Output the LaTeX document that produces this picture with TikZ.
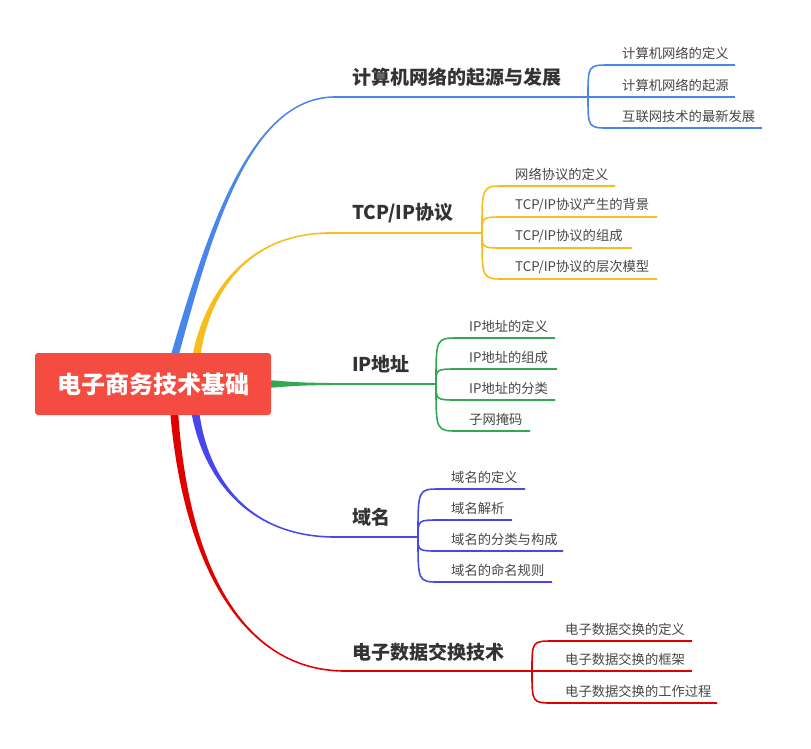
\documentclass[tikz,border=0pt]{standalone}
\usepackage{fontspec}
\setmainfont{Noto Sans CJK SC}
\usetikzlibrary{calc}
\definecolor{genhong}{RGB}{244,76,64}
\definecolor{lan}{RGB}{72,134,236}
\definecolor{huang}{RGB}{246,190,28}
\definecolor{lv}{RGB}{52,166,84}
\definecolor{zi}{RGB}{72,72,234}
\definecolor{hong}{RGB}{224,0,0}
\definecolor{wenzi}{RGB}{51,51,51}
\definecolor{xiaowen}{RGB}{70,70,70}
\tikzset{
  zhuti/.style={anchor=west,inner sep=0pt,text=wenzi,font=\fontsize{19}{23}\selectfont\bfseries},
  zixiang/.style={anchor=west,inner sep=0pt,text=xiaowen,font=\fontsize{13.3}{16}\selectfont},
  xian/.style={line width=1.6pt},
}
% 渐细的主干
\newcommand{\zhigan}[7]{%
  \fill[#1] ($(#2)+(-4,0)$) .. controls ($(#3)+(-2.5,0)$) and ($(#4)+(0,#6)$) .. ($(#5)+(0,#6)$)
    -- ($(#5)+(0,#7)$) .. controls ($(#4)+(0,#7)$) and ($(#3)+(2.5,0)$) .. ($(#2)+(4,0)$) -- cycle;}
% 分支
\newcommand{\fenzhi}[3]{%
  \draw[xian,#1] (#2) .. controls (#2 |- #3) .. ($(#2 |- #3)+(22,0)$) -- (#3);}

\begin{document}
\begin{tikzpicture}[x=1pt,y=-1pt]
  \useasboundingbox (0,0) rectangle (811,748);

  % 坐标点定义
  \coordinate (O1) at (174,358);
  \coordinate (B1) at (335,97);
  \coordinate (F1) at (588,97);
  \coordinate (O2) at (196,358);
  \coordinate (B2) at (330,233);
  \coordinate (F2) at (482,233);
  \coordinate (O3) at (268,384);
  \coordinate (B3) at (345,384);
  \coordinate (F3) at (436,384);
  \coordinate (O4) at (195,410);
  \coordinate (B4) at (335,537);
  \coordinate (F4) at (418,537);
  \coordinate (O5) at (174,410);
  \coordinate (B5) at (345,671);
  \coordinate (F5) at (532,671);

  % 子分支终点
  \coordinate (e11) at (735,65);
  \coordinate (e12) at (735,97);
  \coordinate (e13) at (762,128);
  \coordinate (e21) at (615,186);
  \coordinate (e22) at (657,217);
  \coordinate (e23) at (632,248);
  \coordinate (e24) at (657,279);
  \coordinate (e31) at (555,338);
  \coordinate (e32) at (557,369);
  \coordinate (e33) at (555,400);
  \coordinate (e34) at (530,431);
  \coordinate (e41) at (525,489);
  \coordinate (e42) at (512,520);
  \coordinate (e43) at (563,551);
  \coordinate (e44) at (552,582);
  \coordinate (e51) at (692,641);
  \coordinate (e52) at (692,671);
  \coordinate (e53) at (717,703);

  % 主干
  \zhigan{lan}{O1}{210,230}{250,97}{B1}{-0.8}{0.8}
  \zhigan{huang}{O2}{207,290}{250,233}{B2}{-0.8}{0.8}
  \zhigan{zi}{O4}{205,480}{250,537}{B4}{0.8}{-0.8}
  \zhigan{hong}{O5}{185,560}{240,671}{B5}{0.8}{-0.8}
  \fill[lv] ($(O3)+(0,-4)$) .. controls (300,382.6) .. ($(B3)+(0,-0.8)$)
    -- ($(B3)+(0,0.8)$) .. controls (300,385.4) .. ($(O3)+(0,4)$) -- cycle;

  \draw[xian,lan] (B1) -- (F1);
  \draw[xian,huang] (B2) -- (F2);
  \draw[xian,lv] (B3) -- (F3);
  \draw[xian,zi] (B4) -- (F4);
  \draw[xian,hong] (B5) -- (F5);

  % 子分支
  \fenzhi{lan}{F1}{e11}
  \fenzhi{lan}{F1}{e12}
  \fenzhi{lan}{F1}{e13}
  \fenzhi{huang}{F2}{e21}
  \fenzhi{huang}{F2}{e22}
  \fenzhi{huang}{F2}{e23}
  \fenzhi{huang}{F2}{e24}
  \fenzhi{lv}{F3}{e31}
  \fenzhi{lv}{F3}{e32}
  \fenzhi{lv}{F3}{e33}
  \fenzhi{lv}{F3}{e34}
  \fenzhi{zi}{F4}{e41}
  \fenzhi{zi}{F4}{e42}
  \fenzhi{zi}{F4}{e43}
  \fenzhi{zi}{F4}{e44}
  \fenzhi{hong}{F5}{e51}
  \fenzhi{hong}{F5}{e52}
  \fenzhi{hong}{F5}{e53}

  % 中心主题
  \node[fill=genhong,rounded corners=3pt,minimum width=236pt,minimum height=62pt,
    inner sep=0pt,text=white,font=\fontsize{24}{28}\selectfont\bfseries] (root) at (153,384) {电子商务技术基础};

  % 主题标签
  \node[zhuti] (jsj) at (352,77.5) {计算机网络的起源与发展};
  \node[zhuti] (tcp) at (352,213.5) {TCP/IP协议};
  \node[zhuti] (ip) at (352,364.5) {IP地址};
  \node[zhuti] (ym) at (352,517.5) {域名};
  \node[zhuti] (edi) at (352,652.5) {电子数据交换技术};

  % 子主题标签
  \node[zixiang] (s11) at (622,53.5) {计算机网络的定义};
  \node[zixiang] (s12) at (622,85.5) {计算机网络的起源};
  \node[zixiang] (s13) at (622,116.5) {互联网技术的最新发展};
  \node[zixiang] (s21) at (515,174.5) {网络协议的定义};
  \node[zixiang] (s22) at (515,205.5) {TCP/IP协议产生的背景};
  \node[zixiang] (s23) at (515,236.5) {TCP/IP协议的组成};
  \node[zixiang] (s24) at (515,267.5) {TCP/IP协议的层次模型};
  \node[zixiang] (s31) at (469,326.5) {IP地址的定义};
  \node[zixiang] (s32) at (469,357.5) {IP地址的组成};
  \node[zixiang] (s33) at (469,388.5) {IP地址的分类};
  \node[zixiang] (s34) at (469,419.5) {子网掩码};
  \node[zixiang] (s41) at (451,477.5) {域名的定义};
  \node[zixiang] (s42) at (451,508.5) {域名解析};
  \node[zixiang] (s43) at (451,539.5) {域名的分类与构成};
  \node[zixiang] (s44) at (451,570.5) {域名的命名规则};
  \node[zixiang] (s51) at (565,629.5) {电子数据交换的定义};
  \node[zixiang] (s52) at (565,659.5) {电子数据交换的框架};
  \node[zixiang] (s53) at (565,691.5) {电子数据交换的工作过程};
\end{tikzpicture}
\end{document}
